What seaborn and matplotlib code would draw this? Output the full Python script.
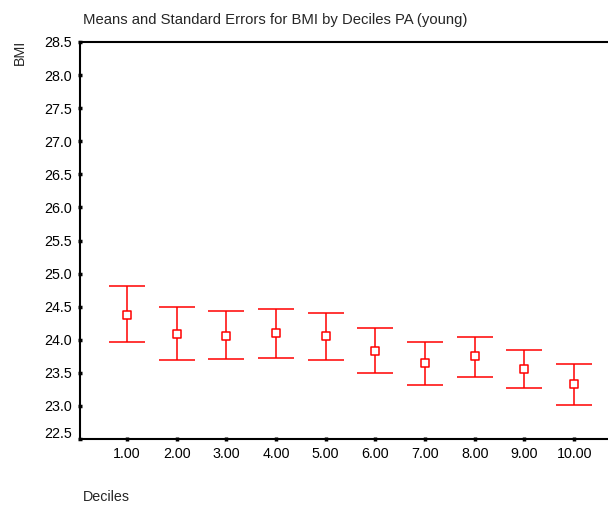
import matplotlib
matplotlib.use("Agg")
import matplotlib.pyplot as plt
import matplotlib.transforms as mtransforms
import seaborn as sns
import pandas as pd
import numpy as np

deciles = [1, 2, 3, 4, 5, 6, 7, 8, 9, 10]
xtick_labels = ["1.00", "2.00", "3.00", "4.00", "5.00", "6.00", "7.00", "8.00", "9.00", "10.00"]
bmi_mean = [24.38, 24.08, 24.06, 24.10, 24.06, 23.83, 23.65, 23.75, 23.56, 23.33]
bmi_upper = [24.81, 24.50, 24.43, 24.47, 24.41, 24.18, 23.96, 24.04, 23.85, 23.64]
bmi_lower = [23.96, 23.69, 23.71, 23.73, 23.69, 23.50, 23.31, 23.43, 23.27, 23.02]
yticks = [22.5, 23.0, 23.5, 24.0, 24.5, 25.0, 25.5, 26.0, 26.5, 27.0, 27.5, 28.0, 28.5]

df = pd.DataFrame({"Deciles": deciles, "BMI": bmi_mean,
                   "upper": bmi_upper, "lower": bmi_lower})

sns.set_theme(style="ticks")
plt.rcParams["font.family"] = ["Liberation Sans", "DejaVu Sans"]

fig = plt.figure(figsize=(6.08, 5.09), dpi=100)
ax = fig.add_axes([0.131, 0.1375, 0.869, 0.78])

red = "#ff0000"
yerr = np.array([df["BMI"] - df["lower"], df["upper"] - df["BMI"]])
ax.errorbar(df["Deciles"], df["BMI"], yerr=yerr, fmt="none", ecolor=red,
            elinewidth=1.1, capsize=13.3, capthick=1.1, zorder=2)
sns.scatterplot(data=df, x="Deciles", y="BMI", marker="s", s=34,
                facecolor="white", edgecolor=red, linewidth=1.1, ax=ax, zorder=3)

ax.set_xlim(0.05, 10.68)
ax.set_ylim(22.5, 28.5)
ax.set_yticks(yticks)
ax.set_yticklabels([f"{v:.1f}" for v in yticks])
ax.set_xticks(deciles)
ax.set_xticklabels(xtick_labels)
ax.tick_params(axis="both", labelsize=10.3, colors="black", width=2.5,
               length=3, direction="inout")
ax.tick_params(axis="y", pad=4.3)
ax.tick_params(axis="x", pad=4.5)

# lowest y label sits slightly above its tick, as in the reference
lbl = ax.get_yticklabels()[0]
lbl.set_transform(lbl.get_transform() +
                  mtransforms.ScaledTranslation(0, 5 / 72, fig.dpi_scale_trans))

for side in ["left", "top", "bottom"]:
    ax.spines[side].set_visible(True)
    ax.spines[side].set_color("black")
    ax.spines[side].set_linewidth(1.5)
ax.spines["right"].set_visible(False)

ax.set_xlabel("")
ax.set_ylabel("")
fig.text(0.137, 0.960, "Means and Standard Errors for BMI by Deciles PA (young)",
         ha="left", va="center", fontsize=10.7)
fig.text(0.033, 0.897, "BMI", rotation=90, ha="center", va="center", fontsize=10.3)
fig.text(0.137, 0.024, "Deciles", ha="left", va="center", fontsize=10.3)

fig.savefig("out.png", dpi=100)
